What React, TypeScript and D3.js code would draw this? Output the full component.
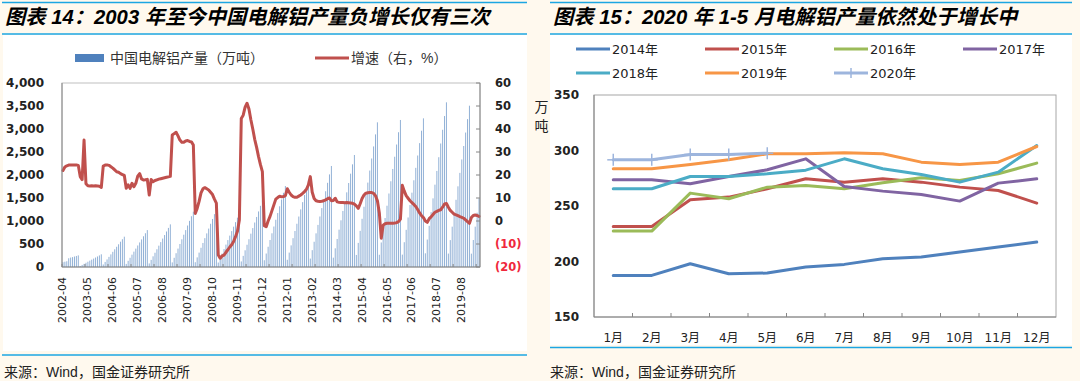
import React from "react";
import * as d3 from "d3";

// ---------- Left chart data (from 2002-04 to 2020-05, monthly) ----------
const production: number[] = [
  // 2002 Apr-Dec
  105, 115, 125, 190, 205, 215, 228, 240, 252,
  // 2003
  22, 45, 68, 92, 115, 138, 160, 183, 206, 229, 252, 276,
  // 2004
  55, 110, 165, 220, 274, 330, 385, 440, 494, 550, 604, 659,
  // 2005
  67, 134, 200, 268, 334, 400, 468, 534, 600, 668, 734, 802,
  // 2006
  77, 155, 232, 310, 386, 464, 541, 618, 695, 772, 850, 927,
  // 2007
  100, 200, 300, 400, 500, 602, 702, 802, 902, 1003, 1103, 1203,
  // 2008
  104, 209, 313, 418, 522, 627, 731, 835, 940, 1044, 1149, 1253,
  // 2009
  97, 195, 292, 390, 487, 585, 682, 780, 877, 975, 1072, 1170,
  // 2010
  121, 242, 363, 484, 604, 725, 846, 967, 1088, 1208, 1330, 1450,
  // 2011
  147, 293, 440, 587, 733, 880, 1027, 1173, 1320, 1467, 1613, 1760,
  // 2012
  157, 313, 470, 627, 783, 940, 1097, 1253, 1410, 1567, 1723, 1880,
  // 2013
  183, 366, 549, 732, 915, 1098, 1281, 1464, 1647, 1830, 2013, 2196,
  // 2014
  203, 406, 609, 812, 1015, 1218, 1420, 1623, 1826, 2029, 2232, 2435,
  // 2015
  262, 524, 786, 1048, 1310, 1572, 1835, 2097, 2359, 2621, 2883, 3145,
  // 2016
  266, 533, 799, 1065, 1332, 1598, 1864, 2131, 2397, 2663, 2930, 3196,
  // 2017
  269, 539, 808, 1077, 1347, 1616, 1885, 2155, 2424, 2693, 2963, 3232,
  // 2018
  298, 597, 895, 1193, 1492, 1790, 2088, 2387, 2685, 2983, 3282, 3580,
  // 2019
  292, 585, 877, 1169, 1461, 1754, 2046, 2338, 2630, 2923, 3215, 3507,
  // 2020 Jan-May
  290, 587, 877, 1180, 1490,
];

const growth: number[] = [
  // 2002 Apr-Dec
  22.0, 23.5, 24.0, 24.3, 24.4, 24.4, 24.3, 24.4, 24.2,
  // 2003
  19.3, 18.0, 35.2, 16.2, 15.3, 15.2, 15.3, 15.2, 15.3, 15.2, 15.1, 14.6,
  // 2004
  23.9, 24.3, 24.4, 24.2, 23.6, 23.0, 22.2, 21.4, 21.2, 20.6, 20.2, 19.8,
  // 2005
  14.2, 15.7, 14.2, 16.4, 14.9, 16.4, 19.5, 20.6, 18.3, 17.8, 17.9, 18.1,
  // 2006
  11.3, 18.0, 17.1, 17.6, 17.9, 18.2, 18.4, 18.6, 18.8, 19.0, 19.2, 19.4,
  // 2007
  37.4, 38.0, 38.6, 37.0, 35.2, 34.2, 34.2, 34.8, 35.0, 34.6, 34.4, 33.0,
  // 2008
  3.3, 5.5, 8.5, 12.2, 14.0, 14.5, 14.0, 13.5, 12.5, 11.5, 9.5, 7.8,
  // 2009
  -14.8, -16.2, -15.2, -14.8, -13.6, -12.5, -11.3, -10.3, -8.9, -6.8, -4.5, 0.4,
  // 2010
  44.6, 46.0, 49.5, 51.2, 48.7, 44.0, 40.0, 35.5, 32.0, 28.0, 24.5, 21.5,
  // 2011
  -2.0, -2.5, 0.0, 2.0, 4.5, 7.0, 9.5, 10.2, 10.8, 10.5, 10.6, 11.0,
  // 2012
  14.0, 12.5, 11.3, 10.6, 10.3, 10.3, 10.8, 11.3, 12.0, 12.8, 13.8, 15.7,
  // 2013
  19.3, 12.5, 9.8, 8.8, 8.6, 8.5, 8.6, 8.8, 9.2, 9.7, 10.0, 8.8,
  // 2014
  8.9, 9.9, 8.3, 8.1, 8.0, 8.0, 7.9, 8.0, 7.9, 7.8, 7.7, 7.3,
  // 2015
  6.6, 5.5, 7.5, 9.8, 11.3, 12.1, 12.3, 12.4, 12.4, 12.0, 11.0, 8.8,
  // 2016
  3.5, -7.5, -1.8, -1.2, -1.0, -1.0, -1.0, -1.0, -0.9, -0.7, -0.3, 0.8,
  // 2017
  15.5, 13.0, 11.0, 9.9, 8.8, 8.0, 7.2, 6.3, 5.0, 3.5, 2.3, 1.5,
  // 2018
  0.0, -0.6, 1.0, 1.8, 2.8, 3.8, 4.2, 4.6, 4.9, 6.0, 7.4, 7.6,
  // 2019
  6.0, 4.6, 3.8, 3.0, 2.7, 2.3, 1.9, 1.6, 1.2, 0.5, -0.3, -1.0,
  // 2020 Jan-May
  1.5, 2.4, 2.6, 2.4, 2.0,
];

const months: Date[] = d3.timeMonth.range(new Date(2002, 3, 1), new Date(2020, 5, 1));
const fmtMonth = d3.timeFormat("%Y-%m");
const monthKeys: string[] = months.map((d) => fmtMonth(d));

const xTickLabels: string[] = [
  "2002-04", "2003-05", "2004-06", "2005-07", "2006-08", "2007-09", "2008-10", "2009-11",
  "2010-12", "2012-01", "2013-02", "2014-03", "2015-04", "2016-05", "2017-06", "2018-07", "2019-08",
];
const leftTicks: number[] = [0, 500, 1000, 1500, 2000, 2500, 3000, 3500, 4000];
const rightTicks: number[] = [-20, -10, 0, 10, 20, 30, 40, 50, 60];

// ---------- Right chart data ----------
const monthLabels: string[] = ["1月", "2月", "3月", "4月", "5月", "6月", "7月", "8月", "9月", "10月", "11月", "12月"];
const s2014: number[] = [187.5, 187.5, 198, 189, 189.6, 195, 197.4, 202.5, 204, 208.5, 213, 217.5];
const s2015: number[] = [231.6, 231.6, 255.6, 258, 265.5, 274.5, 271.5, 274.5, 271.5, 267, 264, 252.6];
const s2016: number[] = [227.4, 227.4, 261.6, 256.5, 267, 268.5, 265.5, 271, 275.4, 273, 279, 288.6];
const s2017: number[] = [273.6, 273.6, 270, 276.6, 282.6, 292.5, 267.6, 263.4, 260.4, 254.4, 270.6, 274.5];
const s2018: number[] = [265.5, 265.5, 276.6, 276.6, 279, 282.3, 292.5, 283.5, 278.4, 271.5, 280.5, 304.5];
const s2019: number[] = [283.5, 283.5, 287.4, 291.6, 297, 297, 297.9, 297, 289.5, 287.4, 289.5, 303.6];
const s2020: number[] = [291.6, 291.6, 296.4, 296.4, 297.6];
const seriesNames: string[] = ["2014年", "2015年", "2016年", "2017年", "2018年", "2019年", "2020年"];
const seriesColors: string[] = ["#4F81BD", "#C0504D", "#9BBB59", "#8064A2", "#4BACC6", "#F79646", "#9DB5DD"];
const yTicks2: number[] = [150, 200, 250, 300, 350];

const CREAM = "#FFF9EE";
const RULE = "#1CA6E2";
const FONT_CN = "'Liberation Sans', 'Noto Sans CJK SC', sans-serif";
const FONT_NUM = "'DejaVu Sans', 'Noto Sans CJK SC', sans-serif";

export default function App() {
  // ---------- left chart scales ----------
  const L = { left: 62, right: 480, top: 83, bottom: 267 };
  const xL = d3.scaleBand<number>().domain(d3.range(months.length)).range([L.left, L.right]);
  const bw = xL.bandwidth();
  const yL = d3.scaleLinear().domain([0, 4000]).range([L.bottom, L.top]);
  const yR = d3.scaleLinear().domain([-20, 60]).range([L.bottom, L.top]);
  const growthLine = d3
    .line<number>()
    .x((_, i) => (xL(i) as number) + bw / 2)
    .y((d) => yR(d))
    .curve(d3.curveLinear)(growth) as string;
  const barW = 1.0;

  // ---------- right chart scales ----------
  const R = { left: 594, right: 1056, top: 95, bottom: 317 };
  const xR = d3.scaleBand<string>().domain(monthLabels).range([R.left, R.right]);
  const bw2 = xR.bandwidth();
  const y2 = d3.scaleLinear().domain([150, 350]).range([R.bottom, R.top]);
  const allSeries = [s2014, s2015, s2016, s2017, s2018, s2019, s2020];
  const lineGen = d3
    .line<number>()
    .x((_, i) => (xR(monthLabels[i]) as number) + bw2 / 2)
    .y((d) => y2(d));

  const fmtComma = d3.format(",");

  return (
    <svg
      width={1080}
      height={381}
      style={{ position: "absolute", left: 0, top: 0, display: "block" }}
      xmlns="http://www.w3.org/2000/svg"
    >
      <rect x={0} y={0} width={1080} height={381} fill={CREAM} />
      {/* white panels */}
      <rect x={3} y={35} width={524} height={316} fill="#FFFFFF" />
      <rect x={550} y={35} width={522} height={310} fill="#FFFFFF" />

      {/* rules */}
      <line x1={2} x2={527} y1={2.5} y2={2.5} stroke={RULE} strokeWidth={1.5} />
      <line x1={2} x2={527} y1={34} y2={34} stroke={RULE} strokeWidth={1.5} />
      <line x1={2} x2={527} y1={355} y2={355} stroke={RULE} strokeWidth={1.5} />
      <line x1={550} x2={1072} y1={2.5} y2={2.5} stroke={RULE} strokeWidth={1.5} />
      <line x1={550} x2={1072} y1={34} y2={34} stroke={RULE} strokeWidth={1.5} />
      <line x1={550} x2={1072} y1={347.5} y2={347.5} stroke={RULE} strokeWidth={1.5} />

      {/* titles */}
      <text x={5} y={24} fontFamily={FONT_CN} fontSize={20.3} fontWeight="bold" fontStyle="italic" fill="#000">
        图表 14：2003 年至今中国电解铝产量负增长仅有三次
      </text>
      <text x={553} y={24} fontFamily={FONT_CN} fontSize={20.3} fontWeight="bold" fontStyle="italic" fill="#000">
        图表 15：2020 年 1-5 月电解铝产量依然处于增长中
      </text>

      {/* sources */}
      <text x={4} y={372} dominantBaseline="central" fontFamily={FONT_CN} fontSize={14} fill="#222">
        来源：Wind，国金证券研究所
      </text>
      <text x={550} y={372} dominantBaseline="central" fontFamily={FONT_CN} fontSize={14} fill="#222">
        来源：Wind，国金证券研究所
      </text>

      {/* ================= LEFT CHART ================= */}
      {/* legend */}
      <rect x={75} y={54} width={29} height={8} fill="#4F81BD" />
      <text x={110} y={58} dominantBaseline="central" fontFamily={FONT_CN} fontSize={14} fill="#333">
        中国电解铝产量（万吨）
      </text>
      <line x1={315} x2={349} y1={58} y2={58} stroke="#C0504D" strokeWidth={3} />
      <text x={351} y={58} dominantBaseline="central" fontFamily={FONT_CN} fontSize={14} fill="#333">
        增速（右，%）
      </text>

      {/* plot box */}
      <rect x={L.left} y={L.top} width={L.right - L.left} height={L.bottom - L.top} fill="none" stroke="#BFBFBF" strokeWidth={1} />

      {/* bars */}
      {production.map((v, i) => (
        <rect
          key={"b" + i}
          x={(xL(i) as number) + (bw - barW) / 2}
          y={yL(v)}
          width={barW}
          height={L.bottom - yL(v)}
          fill="#4F81BD"
          fillOpacity={0.62}
        />
      ))}

      {/* growth line */}
      <path d={growthLine} fill="none" stroke="#C0504D" strokeWidth={3} strokeLinejoin="round" strokeLinecap="round" />

      {/* axes lines */}
      <line x1={L.left} x2={L.left} y1={L.top} y2={L.bottom} stroke="#868686" />
      <line x1={L.left} x2={L.right} y1={L.bottom} y2={L.bottom} stroke="#868686" />
      <line x1={L.right} x2={L.right} y1={L.top} y2={L.bottom} stroke="#868686" />

      {/* bottom ticks */}
      {d3.range(0, months.length, 12).map((i) => (
        <line key={"t" + i} x1={xL(i) as number} x2={xL(i) as number} y1={L.bottom} y2={L.bottom - 3} stroke="#868686" />
      ))}
      {/* right ticks */}
      {rightTicks.map((t) => (
        <line key={"rt" + t} x1={L.right} x2={L.right - 4} y1={yR(t)} y2={yR(t)} stroke="#868686" />
      ))}

      {/* left axis labels */}
      {leftTicks.map((t) => (
        <text key={"lt" + t} x={44} y={yL(t)} textAnchor="end" dominantBaseline="central" fontFamily={FONT_NUM} fontSize={12} fontWeight="bold" fill="#222">
          {fmtComma(t)}
        </text>
      ))}
      {/* right axis labels */}
      {rightTicks.map((t) => (
        <text
          key={"rl" + t}
          x={495}
          y={yR(t)}
          textAnchor="start"
          dominantBaseline="central"
          fontFamily={FONT_NUM}
          fontSize={11.5}
          fontWeight="bold"
          fill={t < 0 ? "#F0283C" : "#222"}
        >
          {t < 0 ? `(${-t})` : String(t)}
        </text>
      ))}
      {/* x labels */}
      {xTickLabels.map((lab) => {
        const idx = monthKeys.indexOf(lab);
        const x = (xL(idx) as number) + bw / 2;
        return (
          <text
            key={lab}
            transform={`translate(${x},${277}) rotate(-90)`}
            textAnchor="end"
            dominantBaseline="central"
            fontFamily={FONT_NUM}
            fontSize={11}
            fill="#222"
          >
            {lab}
          </text>
        );
      })}

      {/* ================= RIGHT CHART ================= */}
      {/* legend */}
      {seriesNames.map((name, i) => {
        const col = i % 4;
        const row = Math.floor(i / 4);
        const lx = 576 + col * 129;
        const ly = 49 + row * 24;
        return (
          <g key={name}>
            <line x1={lx} x2={lx + 34} y1={ly} y2={ly} stroke={seriesColors[i]} strokeWidth={3} />
            {i === 6 && <line x1={lx + 17} x2={lx + 17} y1={ly - 5} y2={ly + 5} stroke={seriesColors[i]} strokeWidth={1.5} />}
            <text x={lx + 36} y={ly} dominantBaseline="central" fontFamily={FONT_NUM} fontSize={13} fill="#222">
              {name}
            </text>
          </g>
        );
      })}

      {/* axis title */}
      <text x={541.5} y={107} textAnchor="middle" dominantBaseline="central" fontFamily={FONT_CN} fontSize={14} fill="#222">
        万
      </text>
      <text x={541.5} y={126} textAnchor="middle" dominantBaseline="central" fontFamily={FONT_CN} fontSize={14} fill="#222">
        吨
      </text>

      {/* plot box */}
      <rect x={R.left} y={R.top} width={R.right - R.left} height={R.bottom - R.top} fill="none" stroke="#A6A6A6" strokeWidth={1} />
      <line x1={R.left} x2={R.left} y1={R.top} y2={R.bottom} stroke="#868686" />
      <line x1={R.left} x2={R.right} y1={R.bottom} y2={R.bottom} stroke="#868686" />
      {monthLabels.slice(1).map((m) => (
        <line key={"bt" + m} x1={xR(m) as number} x2={xR(m) as number} y1={R.bottom} y2={R.bottom - 4} stroke="#868686" />
      ))}

      {/* y labels */}
      {yTicks2.map((t) => (
        <text key={"y2" + t} x={579} y={y2(t)} textAnchor="end" dominantBaseline="central" fontFamily={FONT_NUM} fontSize={12} fontWeight="bold" fill="#222">
          {t}
        </text>
      ))}
      {/* x labels */}
      {monthLabels.map((m) => (
        <text
          key={"x2" + m}
          x={(xR(m) as number) + bw2 / 2}
          y={338}
          textAnchor="middle"
          dominantBaseline="central"
          fontFamily={FONT_NUM}
          fontSize={12}
          fill="#222"
        >
          {m}
        </text>
      ))}

      {/* lines */}
      {allSeries.map((s, i) => (
        <path
          key={"s" + i}
          d={lineGen(s) as string}
          fill="none"
          stroke={seriesColors[i]}
          strokeWidth={3}
          strokeLinejoin="round"
          strokeLinecap="round"
        />
      ))}
      {/* 2020 markers */}
      {s2020.map((v, i) => {
        const cx = (xR(monthLabels[i]) as number) + bw2 / 2;
        const cy = y2(v);
        return (
          <g key={"m" + i}>
            <line x1={cx} x2={cx} y1={cy - 6} y2={cy + 6} stroke={seriesColors[6]} strokeWidth={1.5} />
            <line x1={cx - 6} x2={cx + 6} y1={cy} y2={cy} stroke={seriesColors[6]} strokeWidth={1.5} />
          </g>
        );
      })}
    </svg>
  );
}
